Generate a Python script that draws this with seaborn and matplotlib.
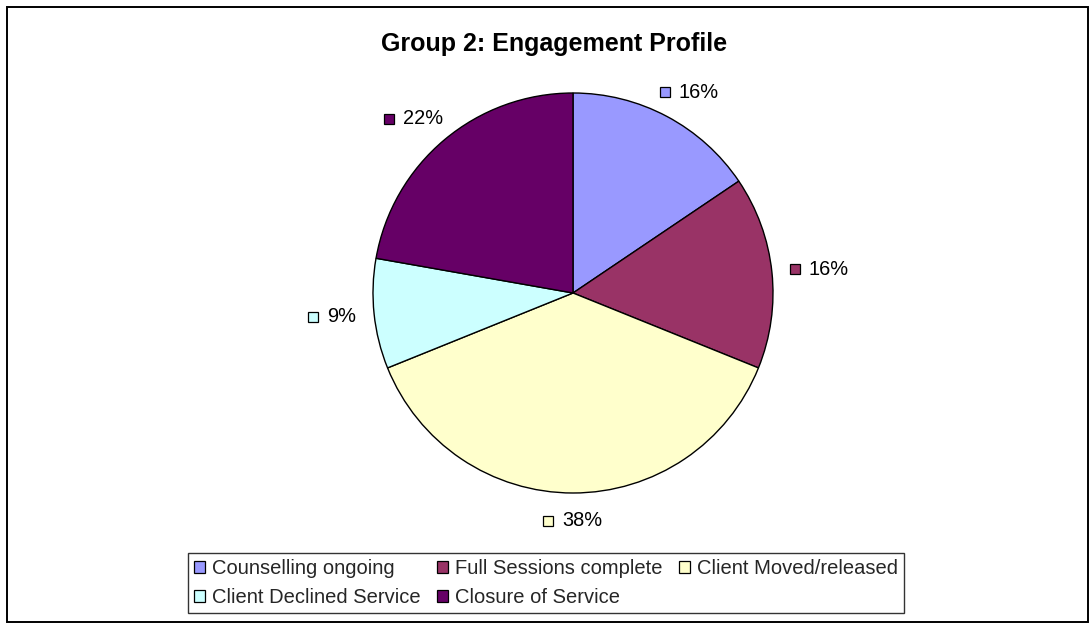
import numpy as np
import matplotlib
matplotlib.use("Agg")
import matplotlib.pyplot as plt
import matplotlib.transforms as mtransforms
from matplotlib.lines import Line2D
from matplotlib.patches import Patch, Rectangle
import seaborn as sns

sns.set_theme(style="white")
plt.rcParams["font.family"] = ["Liberation Sans", "DejaVu Sans"]

categories = ["Counselling ongoing", "Full Sessions complete", "Client Moved/released",
              "Client Declined Service", "Closure of Service"]
counts = [7, 7, 17, 4, 10]
colors = ["#9999FF", "#993366", "#FFFFCC", "#CCFFFF", "#660066"]

W, H = 1090, 624
fig = plt.figure(figsize=(W / 100, H / 100), dpi=100)
ax = fig.add_axes([(573 - 250) / W, (H - 293 - 250) / H, 500 / W, 500 / H])

wedges, _ = ax.pie(counts, colors=colors, startangle=90, counterclock=False,
                   radius=1.0, wedgeprops=dict(edgecolor="black", linewidth=1.0))
ax.set_xlim(-1.25, 1.25)
ax.set_ylim(-1.25, 1.25)
ax.set_aspect("equal")
ax.axis("off")

# data labels: little coloured square + percentage, placed just outside the pie
renderer = fig.canvas.get_renderer()
pix = mtransforms.IdentityTransform()
total = sum(counts)
sq, gap = 10, 9
for w, c, col in zip(wedges, counts, colors):
    mid = np.deg2rad((w.theta1 + w.theta2) / 2)
    ax_px, ay_px = ax.transData.transform((1.09 * np.cos(mid), 1.09 * np.sin(mid)))
    t = fig.text(0, 0, f"{100 * c / total:.0f}%", transform=pix, ha="left", va="center",
                 fontsize=14.4, color="black")
    bb = t.get_window_extent(renderer)
    gw, gh = sq + gap + bb.width, bb.height
    cx = ax_px + gw / 2 * np.cos(mid)
    cy = ay_px + gh / 2 * np.sin(mid)
    t.set_position((cx - gw / 2 + sq + gap, cy))
    fig.add_artist(Line2D([cx - gw / 2 + sq / 2], [cy], marker="s", markersize=7,
                          markerfacecolor=col, markeredgecolor="black",
                          markeredgewidth=0.9, linestyle="none", transform=pix))

fig.text(554 / W, 1 - 51 / H, "Group 2: Engagement Profile", ha="center", va="baseline",
         fontsize=18, fontweight="bold", color="black")

handles = [Patch(facecolor=col, edgecolor="black", linewidth=0.9) for col in colors]
order = [0, 3, 1, 4, 2]
leg = fig.legend([handles[i] for i in order], [categories[i] for i in order],
                 loc="center", bbox_to_anchor=(546 / W, 1 - 583 / H), ncol=3,
                 fontsize=14.5, frameon=True, fancybox=False, handlelength=0.55,
                 handleheight=0.55, handletextpad=0.35, columnspacing=0.8,
                 labelspacing=0.5, borderpad=0.3, borderaxespad=0)
leg.get_frame().set_edgecolor("black")
leg.get_frame().set_linewidth(1.0)

fig.patches.append(Rectangle((7 / W, 2 / H), 1081 / W, (H - 9) / H,
                             transform=fig.transFigure, fill=False, edgecolor="black",
                             linewidth=1.4))

fig.savefig("out.png", dpi=100)
